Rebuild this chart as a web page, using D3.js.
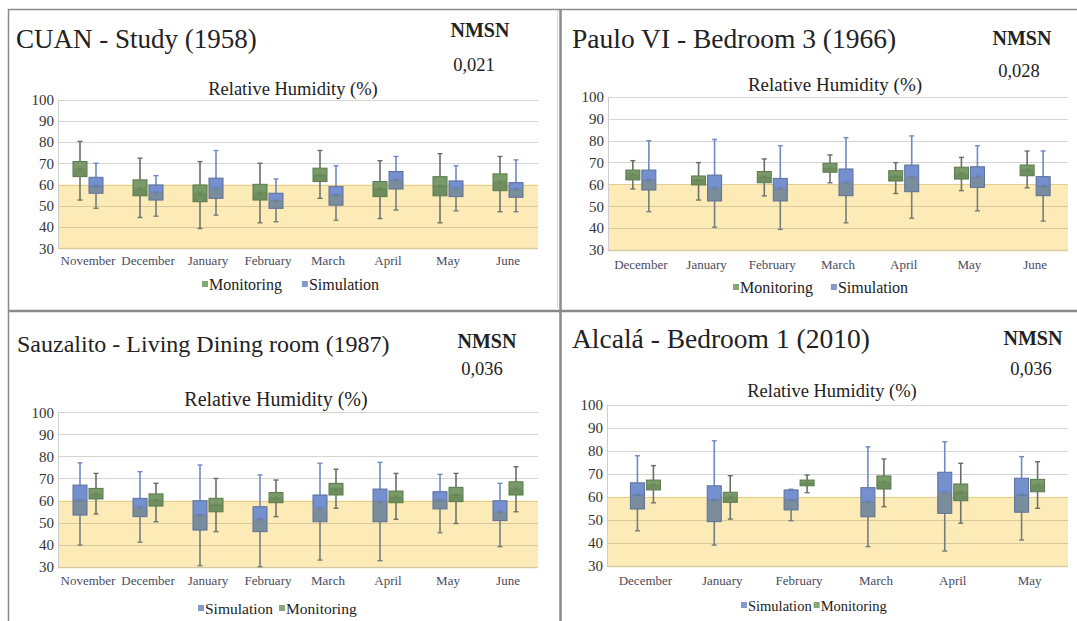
<!DOCTYPE html>
<html>
<head>
<meta charset="utf-8">
<title>Relative Humidity box plots</title>
<script src="https://d3js.org/d3.v7.min.js"></script>
<style>
  body { margin: 0; background: #fff; }
  svg { display: block; }
  text { font-family: "Liberation Serif", "Times New Roman", serif; }
  .ylab { font-size: 15px; fill: #333; }
  .xlab { font-size: 13px; fill: #4a4a5e; }
  .title { fill: #222; }
  .nmsn { font-weight: bold; fill: #222; }
</style>
</head>
<body>
<div id="chart"></div>
<script>
// ---- data: each entry is [min, q1, median, q3, max] ----
var cuanMonths = ["November", "December", "January", "February", "March", "April", "May", "June"];
var cuanMonitoring = [[52.7,63.7,67.2,70.8,80.3],[44.5,54.7,58.2,62.2,72.4],[39.3,51.9,55.9,59.8,70.8],[42.0,52.7,56.3,60.1,70.0],
                      [53.5,61.4,64.5,67.7,76.0],[44.0,54.3,57.9,61.4,71.2],[42.0,54.7,59.3,63.7,74.5],[47.2,57.1,61.4,65.0,73.2]];
var cuanSimulation = [[48.8,55.9,59.3,63.4,70.0],[45.1,52.7,56.3,59.8,64.2],[45.6,53.5,58.2,63.0,76.0],[42.5,48.8,52.5,55.9,62.6],
                      [43.2,50.3,55.1,59.0,68.8],[48.0,57.9,62.2,66.1,73.2],[47.6,54.3,58.2,61.7,68.8],[47.2,54.0,57.8,60.9,71.6]];

var pauloMonths = ["December", "January", "February", "March", "April", "May", "June"];
var pauloMonitoring = [[57.9,62.0,64.6,66.5,70.8],[52.8,59.7,62.0,63.8,69.9],[54.7,60.7,63.5,65.8,71.6],[60.7,65.5,67.6,69.6,73.4],
                       [55.8,61.5,63.9,66.2,69.9],[57.1,62.4,65.0,67.8,72.3],[58.4,63.9,66.5,68.8,75.2]];
var pauloSimulation = [[47.5,57.4,62.0,66.5,79.9],[40.4,52.4,58.2,64.2,80.5],[39.4,52.4,58.2,62.7,77.6],[42.4,54.8,60.9,67.0,81.3],
                       [44.5,56.6,63.5,68.8,82.1],[47.9,58.6,63.5,68.0,77.6],[43.2,54.8,59.2,63.5,75.2]];

var sauzMonths = ["November", "December", "January", "February", "March", "April", "May", "June"];
var sauzSimulation = [[39.8,53.4,60.2,67.0,77.1],[41.1,52.7,56.9,61.0,73.1],[30.5,46.6,53.4,59.9,76.1],[30.0,45.9,51.5,57.2,71.6],
                      [33.0,50.4,56.5,62.5,76.9],[32.7,50.4,59.5,65.2,77.3],[45.4,56.2,60.2,64.0,71.9],[39.1,50.9,54.9,59.9,67.8]];
var sauzMonitoring = [[53.9,60.7,63.2,65.5,72.3],[50.4,57.5,60.2,63.0,67.8],[45.9,54.9,58.0,61.0,70.0],[52.7,59.0,61.3,63.6,69.3],
                      [56.5,62.5,65.2,67.8,74.2],[51.5,59.0,61.7,64.3,72.3],[49.6,59.5,62.5,66.0,72.3],[54.9,62.5,65.5,68.5,75.3]];

var alcalaMonths = ["December", "January", "February", "March", "April", "May"];
var alcalaSimulation = [[45.2,54.7,60.8,66.1,77.9],[39.0,49.2,58.6,64.8,84.4],[49.6,54.3,58.6,63.0,63.3],
                        [38.3,51.3,57.9,64.0,81.8],[36.4,52.8,62.0,70.7,84.0],[41.2,53.3,60.8,68.1,77.5]];
var alcalaMonitoring = [[57.4,63.0,65.1,67.3,73.6],[50.3,57.6,60.0,62.0,69.2],[61.8,64.8,66.1,67.3,69.5],
                        [55.7,63.4,66.6,69.1,76.5],[48.5,58.3,62.2,65.6,74.6],[55.0,62.2,65.1,67.6,75.3]];

var yTicks = [30, 40, 50, 60, 70, 80, 90, 100];
var comfortBand = [30, 60];
var nmsnValues = ["0,021", "0,028", "0,036", "0,036"];

// ---- styles ----
var SERIF = "'Liberation Serif', 'Times New Roman', serif";
var colors = {
  Monitoring: { fill: "#7a9b69", low: "#6f8e60", stroke: "#587a4a", whiskUp: "#667060", whiskLo: "#6d7468", swatch: "#86a877" },
  Simulation: { fill: "#7590cf", low: "#7a8d9c", stroke: "#5b6e9c", whiskUp: "#7189c4", whiskLo: "#747f7c", swatch: "#8499cc" }
};

var W = 1077, H = 621;
var svg = d3.select("#chart").append("svg").attr("width", W).attr("height", H)
  .attr("font-family", SERIF);

var panels = [
  { title: "CUAN - Study (1958)", tx: 16, ty: 48, ts: 27, nx: 480, ny: 37, vx: 474, vy: 71,
    sx: 293, sy: 95, ss: 18.5, x0: 58, x1: 538, yTop: 99.5, yBot: 248.3, xly: 266,
    months: cuanMonths, order: ["Monitoring", "Simulation"], series: [cuanMonitoring, cuanSimulation],
    lx: 202, ly: 290, lgap: 20, lsize: 16, nmsn: nmsnValues[0] },
  { title: "Paulo VI - Bedroom 3 (1966)", tx: 572, ty: 48, ts: 27.5, nx: 1022, ny: 45, vx: 1019, vy: 77,
    sx: 835, sy: 91, ss: 19, x0: 608, x1: 1068, yTop: 96.7, yBot: 250, xly: 270,
    months: pauloMonths, order: ["Monitoring", "Simulation"], series: [pauloMonitoring, pauloSimulation],
    lx: 733, ly: 293, lgap: 18, lsize: 16, nmsn: nmsnValues[1] },
  { title: "Sauzalito - Living Dining room (1987)", tx: 17, ty: 352, ts: 24, nx: 487, ny: 348, vx: 482, vy: 375,
    sx: 276, sy: 406, ss: 20, x0: 58, x1: 538, yTop: 412.3, yBot: 566.7, xly: 586,
    months: sauzMonths, order: ["Simulation", "Monitoring"], series: [sauzSimulation, sauzMonitoring],
    lx: 198, ly: 614, lgap: 6, lsize: 15.5, nmsn: nmsnValues[2] },
  { title: "Alcalá - Bedroom 1 (2010)", tx: 572, ty: 348, ts: 27.5, nx: 1033, ny: 345, vx: 1031, vy: 375,
    sx: 832, sy: 397, ss: 18.5, x0: 607, x1: 1068, yTop: 405, yBot: 565.7, xly: 586,
    months: alcalaMonths, order: ["Simulation", "Monitoring"], series: [alcalaSimulation, alcalaMonitoring],
    lx: 741, ly: 611, lgap: 2, lsize: 14.5, nmsn: nmsnValues[3] }
];

// panel frames
svg.append("rect").attr("x", 8.5).attr("y", 9.5).attr("width", 1080).attr("height", 640)
  .attr("fill", "none").attr("stroke", "#8a8a8a").attr("stroke-width", 1.5);
svg.append("line").attr("x1", 557.5).attr("x2", 557.5).attr("y1", 10).attr("y2", 308).attr("stroke", "#d9d9d9");
svg.append("line").attr("x1", 8).attr("x2", 1077).attr("y1", 311).attr("y2", 311).attr("stroke", "#8a8a8a").attr("stroke-width", 2.5);
svg.append("line").attr("x1", 560.5).attr("x2", 560.5).attr("y1", 9).attr("y2", 621).attr("stroke", "#8a8a8a").attr("stroke-width", 2.5);

panels.forEach(function(p) {
  var g = svg.append("g");

  var y = d3.scaleLinear().domain([30, 100]).range([p.yBot, p.yTop]);
  var x = d3.scaleBand().domain(p.months).range([p.x0, p.x1]);
  var inner = d3.scaleBand().domain(p.order).range([-16, 16]);
  var bw = inner.bandwidth() - 2;

  // comfort band
  g.append("rect")
    .attr("x", p.x0).attr("width", p.x1 - p.x0)
    .attr("y", y(comfortBand[1])).attr("height", y(comfortBand[0]) - y(comfortBand[1]))
    .attr("fill", "#fcebb7");

  // gridlines
  g.selectAll(".grid").data(yTicks).enter().append("line")
    .attr("x1", p.x0).attr("x2", p.x1)
    .attr("y1", function(d) { return Math.round(y(d)) + 0.5; })
    .attr("y2", function(d) { return Math.round(y(d)) + 0.5; })
    .attr("stroke", function(d) { return d === comfortBand[1] ? "#e3cd8e" : (d < comfortBand[1] ? "#d8c99c" : "#d4d4d4"); })
    .attr("stroke-width", function(d) { return d === 30 ? 1.5 : 1.2; });

  // left axis
  var yAxis = d3.axisLeft(y).tickValues(yTicks).tickSize(0).tickPadding(4);
  var ya = g.append("g").attr("transform", "translate(" + p.x0 + ",0)").call(yAxis)
    .attr("font-family", SERIF).attr("font-size", null).attr("fill", null);
  ya.select(".domain").attr("stroke", "#cfcfcf");
  ya.selectAll("text").attr("class", "ylab").attr("fill", null);

  // x labels
  var xAxis = d3.axisBottom(x).tickSize(0).tickPadding(0);
  var xa = g.append("g").attr("transform", "translate(0," + (p.xly - 10) + ")").call(xAxis)
    .attr("font-family", SERIF).attr("font-size", null).attr("fill", null);
  xa.select(".domain").remove();
  xa.selectAll("text").attr("class", "xlab").attr("fill", null);

  // box plots
  p.order.forEach(function(name, si) {
    var c = colors[name];
    var data = p.series[si];
    var bg = g.append("g");
    var items = bg.selectAll("g").data(data).enter().append("g")
      .attr("transform", function(d, i) {
        return "translate(" + (x(p.months[i]) + x.bandwidth() / 2 + inner(name) + inner.bandwidth() / 2) + ",0)";
      });
    // whiskers
    items.append("line").attr("x1", 0).attr("x2", 0)
      .attr("y1", function(d) { return y(d[4]); }).attr("y2", function(d) { return y(d[3]); })
      .attr("stroke", c.whiskUp).attr("stroke-width", 1.6);
    items.append("line").attr("x1", 0).attr("x2", 0)
      .attr("y1", function(d) { return y(d[1]); }).attr("y2", function(d) { return y(d[0]); })
      .attr("stroke", c.whiskLo).attr("stroke-width", 1.6);
    items.append("line").attr("x1", -2.5).attr("x2", 2.5)
      .attr("y1", function(d) { return y(d[4]); }).attr("y2", function(d) { return y(d[4]); })
      .attr("stroke", c.whiskUp).attr("stroke-width", 1.4);
    items.append("line").attr("x1", -2.5).attr("x2", 2.5)
      .attr("y1", function(d) { return y(d[0]); }).attr("y2", function(d) { return y(d[0]); })
      .attr("stroke", c.whiskLo).attr("stroke-width", 1.4);
    // box halves
    items.append("rect").attr("x", -bw / 2).attr("width", bw)
      .attr("y", function(d) { return y(d[2]); })
      .attr("height", function(d) { return y(d[1]) - y(d[2]); })
      .attr("fill", c.low);
    items.append("rect").attr("x", -bw / 2).attr("width", bw)
      .attr("y", function(d) { return y(d[3]); })
      .attr("height", function(d) { return y(d[2]) - y(d[3]); })
      .attr("fill", c.fill);
    items.append("rect").attr("x", -bw / 2).attr("width", bw)
      .attr("y", function(d) { return y(d[3]); })
      .attr("height", function(d) { return y(d[1]) - y(d[3]); })
      .attr("fill", "none").attr("stroke", c.stroke).attr("stroke-width", 1);
    // median with small cross marker
    items.append("line").attr("x1", -bw / 2 + 1).attr("x2", bw / 2 - 1)
      .attr("y1", function(d) { return y(d[2]); }).attr("y2", function(d) { return y(d[2]); })
      .attr("stroke", c.stroke).attr("stroke-width", 0.8).attr("opacity", 0.8);
    items.append("path")
      .attr("d", function(d) { var m = y(d[2]); return "M-2," + (m - 2) + "L2," + (m + 2) + "M-2," + (m + 2) + "L2," + (m - 2); })
      .attr("stroke", c.stroke).attr("stroke-width", 0.8).attr("fill", "none").attr("opacity", 0.7);
  });

  // titles
  g.append("text").attr("class", "title").attr("x", p.tx).attr("y", p.ty)
    .attr("font-family", SERIF).attr("font-size", p.ts).text(p.title);
  g.append("text").attr("class", "nmsn").attr("x", p.nx).attr("y", p.ny)
    .attr("font-family", SERIF).attr("text-anchor", "middle").attr("font-size", 20).text("NMSN");
  g.append("text").attr("x", p.vx).attr("y", p.vy).attr("fill", "#222")
    .attr("font-family", SERIF).attr("text-anchor", "middle").attr("font-size", 18.5).text(p.nmsn);
  g.append("text").attr("x", p.sx).attr("y", p.sy).attr("fill", "#222")
    .attr("font-family", SERIF).attr("text-anchor", "middle").attr("font-size", p.ss).text("Relative Humidity (%)");

  // legend
  var lx = p.lx;
  p.order.forEach(function(name) {
    g.append("rect").attr("x", lx).attr("y", p.ly - 9).attr("width", 6).attr("height", 6)
      .attr("fill", colors[name].swatch);
    var t = g.append("text").attr("x", lx + 7).attr("y", p.ly).attr("fill", "#222")
      .attr("font-family", SERIF).attr("font-size", p.lsize).text(name);
    lx += 7 + t.node().getComputedTextLength() + p.lgap;
  });
});
</script>
</body>
</html>
